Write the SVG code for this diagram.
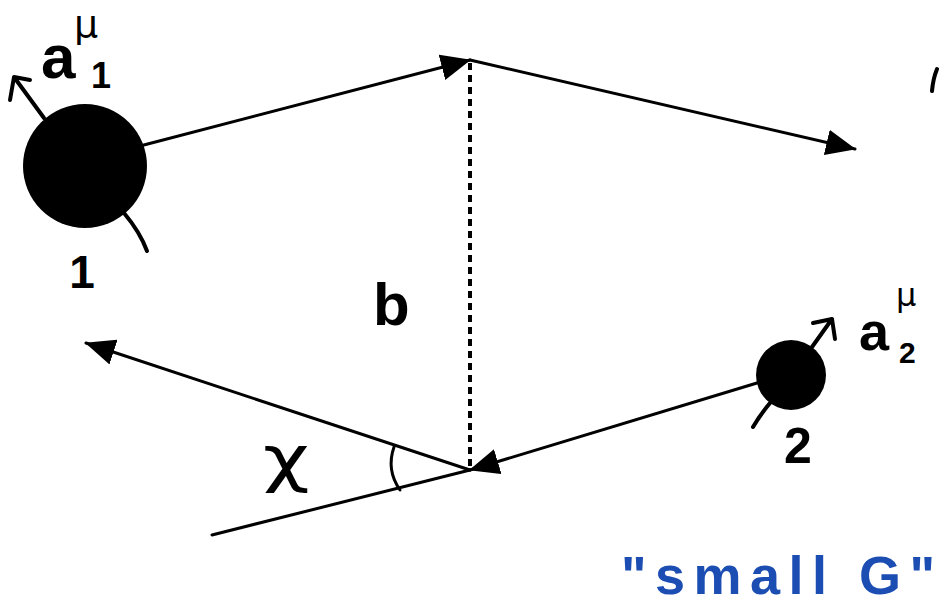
<svg xmlns="http://www.w3.org/2000/svg" width="939" height="608" viewBox="0 0 939 608">
<style>
.ln{stroke:#000;stroke-width:3;fill:none;stroke-linecap:round;stroke-linejoin:round}
.hand{stroke:#000;stroke-width:4;fill:none;stroke-linecap:round;stroke-linejoin:round}
.lbl{font-family:"Liberation Sans","DejaVu Sans",sans-serif;fill:#000;font-weight:bold}
.mu{font-family:"DejaVu Sans","Liberation Sans",sans-serif;fill:#000}
.blue{font-family:"Liberation Sans","DejaVu Sans",sans-serif;fill:#1b4db3;font-weight:bold}
</style>
<defs>
<marker id="tri" markerUnits="userSpaceOnUse" viewBox="0 0 30 26" refX="29" refY="13" markerWidth="30" markerHeight="26" orient="auto">
<path d="M0,0 L30,13 L0,26 z" fill="#000"/>
</marker>
</defs>
<rect width="939" height="608" fill="#fff"/>
<g id="connectors">
<line class="ln" x1="140" y1="146" x2="470" y2="60" marker-end="url(#tri)"/>
<line class="ln" x1="470" y1="60" x2="855" y2="149" marker-end="url(#tri)"/>
<line x1="470" y1="63" x2="470" y2="468" stroke="#000" stroke-width="4" stroke-dasharray="7,5"/>
<line class="ln" x1="757" y1="383" x2="470" y2="470" marker-end="url(#tri)"/>
<line class="ln" x1="470" y1="470" x2="86" y2="343" marker-end="url(#tri)"/>
<line class="ln" x1="470" y1="470" x2="212" y2="535"/>
<path class="ln" d="M394,447 Q386,470 400,490"/>
</g>
<g id="body1">
<circle cx="85" cy="166" r="62" fill="#000"/>
<path class="hand" d="M44,118 L14,77 M10,100 L14,77 L30,80"/>
<path class="hand" d="M124,213 Q140,232 147,251"/>
<text class="lbl" x="82" y="288" font-size="46" text-anchor="middle">1</text>
</g>
<g id="label-a1">
<text class="lbl" x="41" y="78" font-size="62">a</text>
<text class="lbl" x="91" y="88" font-size="36">1</text>
<text class="mu" x="74" y="37" font-size="38">μ</text>
</g>
<g id="body2">
<circle cx="791" cy="375" r="35" fill="#000"/>
<path class="hand" d="M812,347 L832,319 M813,323 L832,319 L835,339"/>
<path class="hand" d="M770,403 Q760,415 753,427"/>
<text class="lbl" x="798" y="463" font-size="50" text-anchor="middle">2</text>
</g>
<g id="label-a2">
<text class="lbl" x="859" y="350" font-size="54">a</text>
<text class="lbl" x="899" y="363" font-size="30">2</text>
<text class="mu" x="896" y="306" font-size="32">μ</text>
</g>
<g id="label-b">
<text class="lbl" x="373" y="325" font-size="60">b</text>
</g>
<g id="label-chi">
<text class="mu" x="0" y="0" font-size="62" transform="translate(263,480) scale(1.3,1)">χ</text>
</g>
<path class="hand" d="M937,69 Q933,79 932,91"/>
<g id="label-smallG">
<text class="blue" x="621" y="594" font-size="54" textLength="314" lengthAdjust="spacing">"small G"</text>
</g>
</svg>
